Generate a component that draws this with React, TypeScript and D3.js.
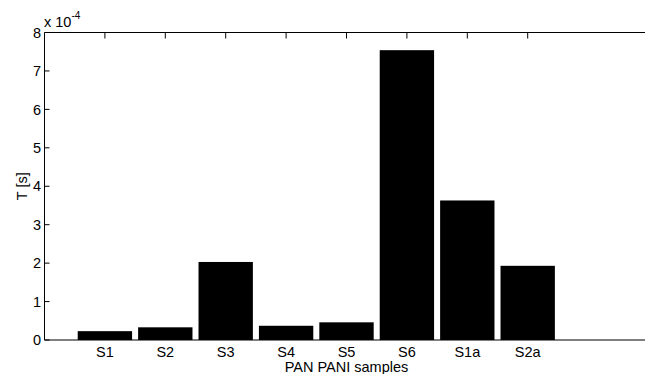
import React from "react";
import * as d3 from "d3";

const categories = ["S1", "S2", "S3", "S4", "S5", "S6", "S1a", "S2a"];
const values = [0.23, 0.33, 2.03, 0.37, 0.46, 7.54, 3.63, 1.93]; // x 10^-4
const yTicks = [0, 1, 2, 3, 4, 5, 6, 7, 8];

const W = 645;
const H = 374;
const font = "'Liberation Sans', Arial, Helvetica, sans-serif";
const fs = 14.5;

export default function App() {
  const x = d3.scaleLinear().domain([0, 10]).range([44.5, 648.5]);
  const y = d3.scaleLinear().domain([0, 8]).range([340, 32.5]);
  const bw = 0.9;
  const left = x(0);
  const right = x(10);
  return (
    <div style={{ position: "absolute", left: 0, top: 0 }}>
      <svg width={W} height={H} style={{ display: "block", background: "#fff" }}>
        {values.map((v, i) => (
          <rect
            key={categories[i]}
            x={x(i + 1 - bw / 2)}
            y={y(v)}
            width={x(i + 1 + bw / 2) - x(i + 1 - bw / 2)}
            height={y(0) - y(v)}
            fill="#000"
          />
        ))}
        <line x1={left} x2={left} y1={y(0)} y2={y(8)} stroke="#000" strokeWidth={1} />
        <line x1={left} x2={right} y1={y(0)} y2={y(0)} stroke="#000" strokeWidth={1} />
        <line x1={left} x2={right} y1={y(8)} y2={y(8)} stroke="#000" strokeWidth={1} />
        {yTicks.map((t) => (
          <g key={t}>
            <line x1={left} x2={left + 5} y1={y(t)} y2={y(t)} stroke="#000" strokeWidth={1} />
            <text
              x={left - 3.5}
              y={y(t)}
              dy="0.36em"
              textAnchor="end"
              fontFamily={font}
              fontSize={fs}
              fill="#000"
            >
              {t}
            </text>
          </g>
        ))}
        {categories.map((c, i) => (
          <g key={c}>
            <line x1={x(i + 1)} x2={x(i + 1)} y1={y(8)} y2={y(8) + 6} stroke="#000" strokeWidth={1} />
            <line x1={x(i + 1)} x2={x(i + 1)} y1={y(0)} y2={y(0) - 6} stroke="#000" strokeWidth={1} />
            <text
              x={x(i + 1)}
              y={357}
              textAnchor="middle"
              fontFamily={font}
              fontSize={fs}
              fill="#000"
            >
              {c}
            </text>
          </g>
        ))}
        <text x={left - 0.5} y={27} fontFamily={font} fontSize={fs} fill="#000">
          x 10
          <tspan dy={-8} fontSize={10}>-4</tspan>
        </text>
        <text
          x={(left + right) / 2}
          y={372}
          textAnchor="middle"
          fontFamily={font}
          fontSize={fs}
          fill="#000"
        >
          PAN PANI samples
        </text>
        <text
          transform={`translate(27, ${(y(0) + y(8)) / 2}) rotate(-90)`}
          textAnchor="middle"
          fontFamily={font}
          fontSize={fs}
          fill="#000"
        >
          T [s]
        </text>
      </svg>
    </div>
  );
}
